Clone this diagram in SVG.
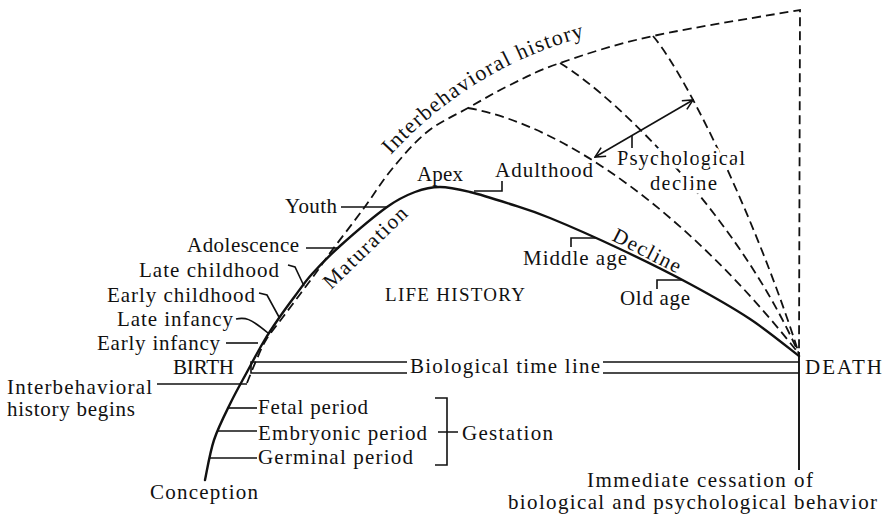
<svg xmlns="http://www.w3.org/2000/svg" width="891" height="517" viewBox="0 0 891 517">
<style>
text { font-family: "Liberation Serif", "Times New Roman", serif; font-size: 21px; fill: #111; }
.ln { fill: none; stroke: #111; stroke-width: 1.6; }
.solid { fill: none; stroke: #111; stroke-width: 2.4; stroke-linecap: round; stroke-linejoin: round; }
.dash { fill: none; stroke: #111; stroke-width: 1.8; stroke-dasharray: 9 5; }
.halo { stroke: #fff; stroke-width: 7; stroke-linejoin: round; paint-order: stroke; }
</style>
<defs>
<marker id="oa" viewBox="0 0 12 12" refX="11" refY="6" markerWidth="12" markerHeight="12" orient="auto-start-reverse" markerUnits="userSpaceOnUse">
<path d="M1,1 L11,6 L1,11" fill="none" stroke="#111" stroke-width="1.6"/>
</marker>
<path id="ihPath" d="M388,158 Q475,62 600,33"/>
</defs>
<rect width="891" height="517" fill="#fff"/>
<g id="connectors">
<path id="life-curve" class="solid" d="M205,480 C206.5,473.3 209.7,453 214,440 C218.3,427 225.5,413.3 231,402 C236.5,390.7 241.5,382.2 247,372 C252.5,361.8 258.7,350 264,341 C269.3,332 273.8,325.5 279,318 C284.2,310.5 289.5,303.3 295,296 C300.5,288.7 304.5,282.3 312,274 C319.5,265.7 327.5,257.2 340,246 C352.5,234.8 374.5,216 387,207 C399.5,198 406.2,195.3 415,192 C423.8,188.7 430.8,187 440,187 C449.2,187 458.3,189.2 470,192 C481.7,194.8 496.7,199.7 510,204 C523.3,208.3 531.7,210.5 550,218 C568.3,225.5 596.7,238 620,249 C643.3,260 668.3,272.3 690,284 C711.7,295.7 731.8,307 750,319 C768.2,331 790.8,349.8 799,356"/>
<path id="interbehavioral-curve" class="dash" d="M247,383 C248.5,379.3 252.8,368.2 256,361 C259.2,353.8 261.5,347.3 266,340 C270.5,332.7 277.2,324.8 283,317 C288.8,309.2 295.2,300.8 301,293 C306.8,285.2 312.7,277.3 318,270 C323.3,262.7 325.3,259.3 333,249 C340.7,238.7 354.2,221.3 364,208 C373.8,194.7 381.5,181.7 392,169 C402.5,156.3 414.3,142.2 427,132 C439.7,121.8 454.2,115.8 468,108 C481.8,100.2 494.7,92.5 510,85 C525.3,77.5 536.2,71.2 560,63 C583.8,54.8 613,44.8 653,36 C693,27.2 775.5,14.3 800,10 L799,352"/>
<path id="decline-1" class="dash" d="M468,108 C565,125 690,215 799,354"/>
<path id="decline-2" class="dash" d="M560,63 C620,100 740,220 799,354"/>
<path id="decline-3" class="dash" d="M653,36 C690,80 760,230 799,354"/>
<path id="bio-line" class="ln" d="M407,362 H251 V373 H407 M603,362 H799 M603,373 H799"/>
<path id="death-line" class="ln" d="M799,352 V470" style="stroke-width:1.9"/>
<path id="psych-arrow" class="ln" d="M595,157 L693,100" marker-start="url(#oa)" marker-end="url(#oa)"/>
<path class="ln" d="M632,136 V148"/>
<path class="ln" d="M474,191 H502 V181"/>
<path class="ln" d="M597,238 H571 V247"/>
<path class="ln" d="M682,280 H657 V289"/>
<path class="ln" d="M341,207 H388"/>
<path class="ln" d="M306,248 H339"/>
<path class="ln" d="M288,265 L295,267 L304,286"/>
<path class="ln" d="M259,293 L267,295 L279,317"/>
<path class="ln" d="M236,319 C245,317 250,318 268,333"/>
<path class="ln" d="M226,343 H258"/>
<path class="ln" d="M157,384 H247"/>
<path class="ln" d="M228,408 H257"/>
<path class="ln" d="M218,431 H257"/>
<path class="ln" d="M209,458 H257"/>
<path class="ln" d="M435,398 H447 V465 H435 M438,432 H458"/>
</g>
<g id="node-interbehavioral-history"><text style="font-size:22px;letter-spacing:1.3px"><textPath href="#ihPath" startOffset="4">Interbehavioral history</textPath></text></g>
<g id="node-apex"><text x="417" y="181" textLength="46">Apex</text></g>
<g id="node-adulthood"><text x="495" y="177" textLength="98">Adulthood</text></g>
<g id="node-youth"><text x="285" y="213" textLength="52">Youth</text></g>
<g id="node-adolescence"><text x="187" y="252" textLength="112">Adolescence</text></g>
<g id="node-late-childhood"><text x="139" y="277" textLength="140">Late childhood</text></g>
<g id="node-early-childhood"><text x="107" y="302" textLength="148">Early childhood</text></g>
<g id="node-late-infancy"><text x="117" y="326" textLength="116">Late infancy</text></g>
<g id="node-early-infancy"><text x="97" y="350" textLength="123">Early infancy</text></g>
<g id="node-birth"><text x="173" y="374" textLength="61">BIRTH</text></g>
<g id="node-ih-begins"><text x="7" y="394" textLength="145">Interbehavioral</text><text x="7" y="416" textLength="128">history begins</text></g>
<g id="node-fetal"><text x="258" y="414" textLength="110">Fetal period</text></g>
<g id="node-embryonic"><text x="258" y="440" textLength="169">Embryonic period</text></g>
<g id="node-germinal"><text x="258" y="464" textLength="155">Germinal period</text></g>
<g id="node-gestation"><text x="462" y="440" textLength="91">Gestation</text></g>
<g id="node-conception"><text x="150" y="499" textLength="108">Conception</text></g>
<g id="node-life-history"><text x="385" y="301" textLength="140" style="font-size:19px">LIFE HISTORY</text></g>
<g id="node-maturation"><text transform="translate(331,290) rotate(-44)" textLength="108">Maturation</text></g>
<g id="node-decline"><text transform="translate(611,240) rotate(27)" textLength="74">Decline</text></g>
<g id="node-middle-age"><text x="523" y="265" textLength="104">Middle age</text></g>
<g id="node-old-age"><text x="620" y="305" textLength="70">Old age</text></g>
<g id="node-psych-decline"><text class="halo" x="617" y="165" textLength="128">Psychological</text><text class="halo" x="650" y="190" textLength="67">decline</text></g>
<g id="node-bio-time-line"><text x="410" y="373" textLength="190">Biological time line</text></g>
<g id="node-death"><text x="805" y="374" textLength="77" style="font-size:21px">DEATH</text></g>
<g id="node-cessation"><text x="587" y="487" textLength="226">Immediate cessation of</text><text x="508" y="509" textLength="369">biological and psychological behavior</text></g>
</svg>
